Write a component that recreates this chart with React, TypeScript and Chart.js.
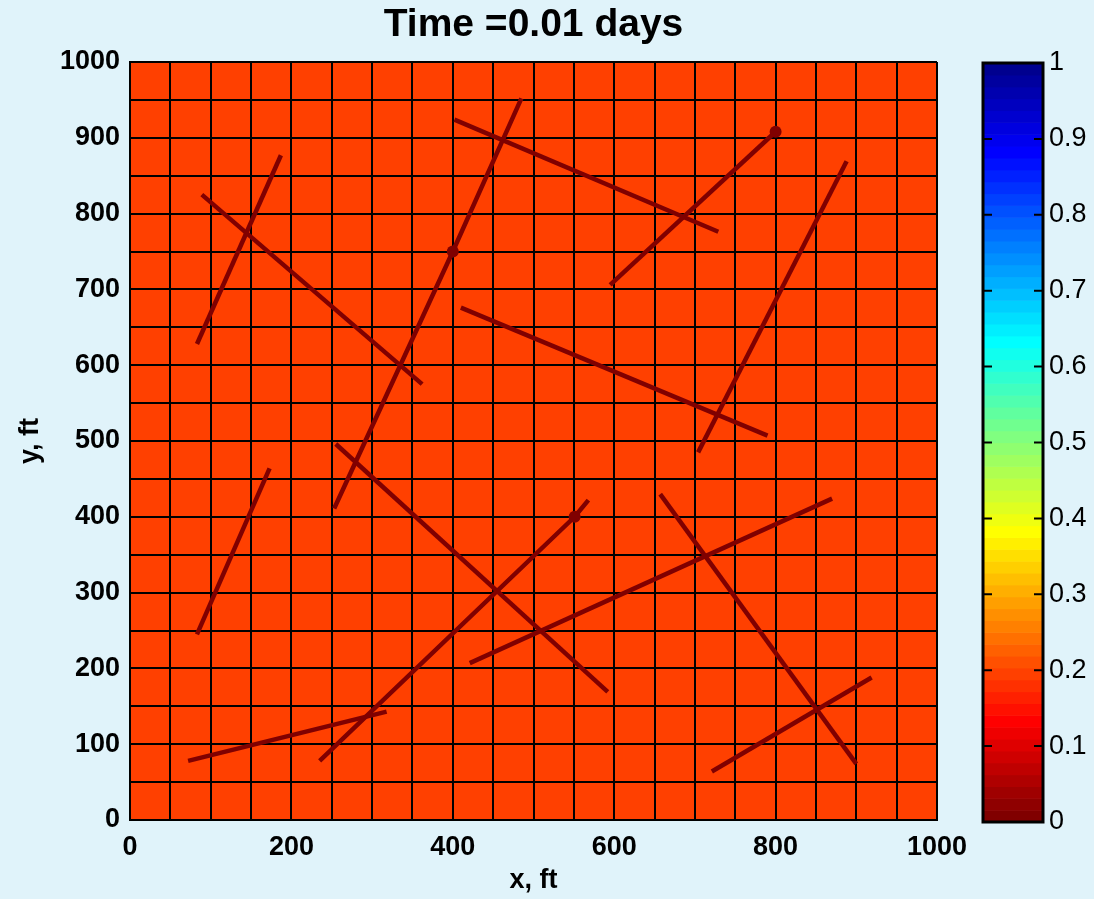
import React, { useEffect, useRef } from 'react';
import { Chart, registerables } from 'chart.js';

Chart.register(...registerables);

// ---- data ----
const titleText = 'Time =0.01 days';
const xLabel = 'x, ft';
const yLabel = 'y, ft';
const cellEdgesX = [0, 50, 100, 150, 200, 250, 300, 350, 400, 450, 500, 550, 600, 650, 700, 750, 800, 850, 900, 950, 1000];
const cellEdgesY = [0, 50, 100, 150, 200, 250, 300, 350, 400, 450, 500, 550, 600, 650, 700, 750, 800, 850, 900, 950, 1000];
const cellValue = 0.19; // uniform saturation field
const xLabelEvery = 200;
const yLabelEvery = 100;

const fracX = [
  [83, 187],
  [89, 362],
  [253, 400, 485],
  [402, 729],
  [595, 800],
  [704, 888],
  [410, 790],
  [83, 173],
  [255, 592],
  [235, 551, 568],
  [421, 870],
  [72, 318],
  [657, 900],
  [721, 919],
];
const fracY = [
  [628, 877],
  [825, 575],
  [411, 750, 952],
  [924, 776],
  [706, 908],
  [485, 869],
  [676, 507],
  [245, 464],
  [496, 169],
  [78, 400, 422],
  [207, 424],
  [78, 143],
  [430, 74],
  [64, 188],
];
const wellX = [400, 800, 551];
const wellY = [750, 908, 400];
const colorbarMin = 0;
const colorbarMax = 1;
const colorbarStep = 0.1;

// ---- colormap (MATLAB jet(64), flipped) ----
const NLEV = 64;
function buildJet(m: number) {
  const n = Math.ceil(m / 4);
  const u: number[] = [];
  for (let i = 1; i <= n; i++) u.push(i / n);
  for (let i = 0; i < n - 1; i++) u.push(1);
  for (let i = n; i >= 1; i--) u.push(i / n);
  const R = new Array(m).fill(0), G = new Array(m).fill(0), B = new Array(m).fill(0);
  const off = Math.ceil(n / 2) - (m % 4 === 1 ? 1 : 0);
  for (let i = 1; i <= u.length; i++) {
    const g = off + i, r = g + n, b = g - n;
    if (g >= 1 && g <= m) G[g - 1] = u[i - 1];
    if (r >= 1 && r <= m) R[r - 1] = u[i - 1];
    if (b >= 1 && b <= m) B[b - 1] = u[i - 1];
  }
  return R.map((_, k) => `rgb(${Math.round(R[k] * 255)},${Math.round(G[k] * 255)},${Math.round(B[k] * 255)})`);
}
const JET = buildJet(NLEV);
function colorFor(v: number) {
  const t = (v - colorbarMin) / (colorbarMax - colorbarMin);
  const j = Math.min(NLEV, Math.floor(t * NLEV) + 1); // flipped row 1..64
  return JET[NLEV - j]; // jet row 65-j
}

const BG = 'rgb(224,243,250)';
const LINE = 'rgb(128,0,0)';
const FONT = "'Liberation Sans', Arial, Helvetica, sans-serif";

const cellPlugin = {
  id: 'cells',
  beforeDraw(chart: any) {
    const { ctx } = chart;
    const xs = chart.scales.x, ys = chart.scales.y;
    ctx.save();
    ctx.fillStyle = colorFor(cellValue);
    for (let i = 0; i < cellEdgesX.length - 1; i++) {
      for (let j = 0; j < cellEdgesY.length - 1; j++) {
        const x0 = xs.getPixelForValue(cellEdgesX[i]);
        const x1 = xs.getPixelForValue(cellEdgesX[i + 1]);
        const y0 = ys.getPixelForValue(cellEdgesY[j + 1]);
        const y1 = ys.getPixelForValue(cellEdgesY[j]);
        ctx.fillRect(x0, y0, x1 - x0 + 0.5, y1 - y0 + 0.5);
      }
    }
    ctx.restore();
  },
};

const colorbarPlugin = {
  id: 'cbar',
  beforeDatasetsDraw(chart: any) {
    const { ctx, chartArea } = chart;
    const ys = chart.scales.y;
    ctx.save();
    for (let k = 0; k < NLEV; k++) {
      const v0 = colorbarMin + (k / NLEV) * (colorbarMax - colorbarMin);
      const v1 = colorbarMin + ((k + 1) / NLEV) * (colorbarMax - colorbarMin);
      const p0 = ys.getPixelForValue(v0);
      const p1 = ys.getPixelForValue(v1);
      ctx.fillStyle = colorFor((v0 + v1) / 2);
      ctx.fillRect(chartArea.left, p1, chartArea.right - chartArea.left, p0 - p1 + 0.6);
    }
    ctx.restore();
  },
  afterDraw(chart: any) {
    const { ctx, chartArea } = chart;
    const ys = chart.scales.y;
    ctx.save();
    ctx.strokeStyle = '#000';
    ctx.lineWidth = 3;
    ctx.strokeRect(chartArea.left, chartArea.top, chartArea.right - chartArea.left, chartArea.bottom - chartArea.top);
    ctx.lineWidth = 2;
    ys.ticks.forEach((t: any) => {
      const p = ys.getPixelForValue(t.value);
      ctx.beginPath();
      ctx.moveTo(chartArea.left, p);
      ctx.lineTo(chartArea.left + 9, p);
      ctx.moveTo(chartArea.right, p);
      ctx.lineTo(chartArea.right - 9, p);
      ctx.stroke();
    });
    ctx.restore();
  },
};

export default function App() {
  const mainRef = useRef<HTMLCanvasElement>(null);
  const cbRef = useRef<HTMLCanvasElement>(null);

  useEffect(() => {
    document.body.style.margin = '0';
    const tickCbX = (v: any) => (Number(v) % xLabelEvery === 0 ? String(v) : '');
    const tickCbY = (v: any) => (Number(v) % yLabelEvery === 0 ? String(v) : '');
    const datasets: any[] = fracX.map((xs, i) => ({
      data: xs.map((x, j) => ({ x, y: fracY[i][j] })),
      showLine: true,
      borderColor: LINE,
      borderWidth: 4.5,
      pointRadius: 0,
      fill: false,
    }));
    datasets.push({
      data: wellX.map((x, i) => ({ x, y: wellY[i] })),
      showLine: false,
      pointRadius: 6,
      pointBackgroundColor: LINE,
      pointBorderWidth: 0,
      backgroundColor: LINE,
      borderColor: LINE,
    });

    const main = new Chart(mainRef.current!, {
      type: 'scatter',
      data: { datasets },
      options: {
        animation: false,
        responsive: false,
        layout: { padding: { left: 0, right: 130, top: 0, bottom: 0 } },
        plugins: {
          legend: { display: false },
          tooltip: { enabled: false },
          title: { display: false },
        },
        scales: {
          x: {
            type: 'linear',
            min: 0,
            max: 1000,
            ticks: {
              stepSize: 50,
              autoSkip: false,
              maxRotation: 0,
              callback: tickCbX,
              color: '#000',
              font: { family: FONT, size: 27, weight: 'bold' },
              padding: 11,
            },
            grid: { color: '#000', lineWidth: 2, drawTicks: false },
            border: { display: true, color: '#000', width: 2 },
            title: {
              display: true,
              text: xLabel,
              color: '#000',
              font: { family: FONT, size: 27, weight: 'bold', lineHeight: 1.2 },
              padding: { top: 0, bottom: 2 },
            },
            afterFit: (s: any) => { s.height = 79; },
          },
          xTop: {
            type: 'linear',
            position: 'top',
            min: 0,
            max: 1000,
            ticks: { display: false },
            grid: { display: false, drawTicks: false },
            border: { display: false },
            title: {
              display: true,
              text: titleText,
              color: '#000',
              font: { family: FONT, size: 39, weight: 'bold', lineHeight: 1.2 },
              padding: { top: 2, bottom: 0 },
            },
            afterFit: (s: any) => { s.height = 62; },
          },
          y: {
            type: 'linear',
            min: 0,
            max: 1000,
            ticks: {
              stepSize: 50,
              autoSkip: false,
              callback: tickCbY,
              color: '#000',
              font: { family: FONT, size: 27, weight: 'bold' },
              padding: 10,
            },
            grid: { color: '#000', lineWidth: 2, drawTicks: false },
            border: { display: true, color: '#000', width: 2 },
            title: {
              display: true,
              text: yLabel,
              color: '#000',
              font: { family: FONT, size: 27, weight: 'bold', lineHeight: 1.2 },
              padding: { top: 14, bottom: 0 },
            },
            afterFit: (s: any) => { s.width = 130; },
          },
        },
      } as any,
      plugins: [cellPlugin],
    });

    const cb = new Chart(cbRef.current!, {
      type: 'scatter',
      data: { datasets: [] },
      options: {
        animation: false,
        responsive: false,
        layout: { padding: { left: 23, right: 0, top: 63, bottom: 77 } },
        plugins: { legend: { display: false }, tooltip: { enabled: false } },
        scales: {
          x: { type: 'linear', display: false, min: 0, max: 1 },
          y: {
            type: 'linear',
            position: 'right',
            min: colorbarMin,
            max: colorbarMax,
            ticks: {
              stepSize: colorbarStep,
              color: '#000',
              font: { family: FONT, size: 27, weight: 'normal' },
              padding: 6,
              callback: (v: any) => String(Number(Number(v).toFixed(1))),
            },
            grid: { display: false, drawTicks: false },
            border: { display: false },
            afterFit: (s: any) => { s.width = 51; },
          },
        },
      } as any,
      plugins: [colorbarPlugin],
    });

    return () => {
      main.destroy();
      cb.destroy();
    };
  }, []);

  return (
    <div style={{ position: 'fixed', left: 0, top: 0, width: 1094, height: 899, background: BG, overflow: 'hidden' }}>
      <canvas ref={mainRef} width={1067} height={899} style={{ position: 'absolute', left: 0, top: 0, width: 1067, height: 899 }} />
      <canvas ref={cbRef} width={134} height={899} style={{ position: 'absolute', left: 960, top: 0, width: 134, height: 899 }} />
    </div>
  );
}
